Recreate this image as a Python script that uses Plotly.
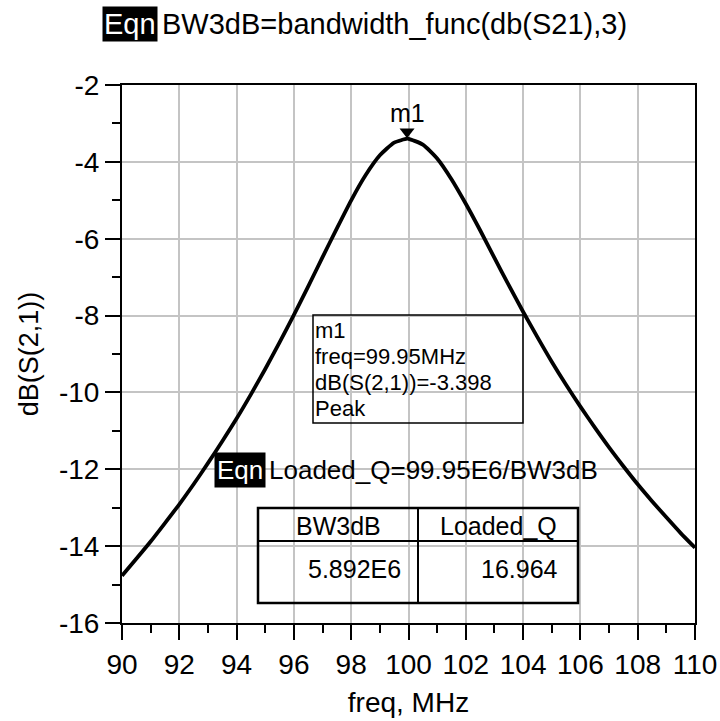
import plotly.graph_objects as go

# ---------------- data ----------------
freq_mhz = [90, 90.5, 91, 91.5, 92, 92.5, 93, 93.5, 94, 94.5, 95, 95.5, 96, 96.5,
            97, 97.5, 98, 98.5, 99, 99.5, 99.95, 100, 100.5, 101, 101.5, 102, 102.5,
            103, 103.5, 104, 104.5, 105, 105.5, 106, 106.5, 107, 107.5, 108, 108.5,
            109, 109.5, 110]
db_s21 = [-14.77, -14.33, -13.88, -13.40, -12.91, -12.39, -11.84, -11.27, -10.68,
          -10.05, -9.39, -8.70, -7.98, -7.24, -6.48, -5.73, -5.00, -4.35, -3.83,
          -3.50, -3.398, -3.40, -3.55, -3.91, -4.45, -5.09, -5.78, -6.50, -7.21,
          -7.90, -8.56, -9.20, -9.80, -10.37, -10.91, -11.43, -11.92, -12.39,
          -12.83, -13.25, -13.66, -14.04]

marker_name = "m1"
marker_freq = 99.95
marker_db = -3.398
marker_lines = ["m1", "freq=99.95MHz", "dB(S(2,1))=-3.398", "Peak"]

eqn_title = "BW3dB=bandwidth_func(db(S21),3)"
eqn_q = "Loaded_Q=99.95E6/BW3dB"
table_headers = ["BW3dB", "Loaded_Q"]
table_values = ["5.892E6", "16.964"]

x_ticks = [90, 92, 94, 96, 98, 100, 102, 104, 106, 108, 110]
y_ticks = [-2, -4, -6, -8, -10, -12, -14, -16]

# ---------------- layout geometry ----------------
W, H = 720, 721
L, R, T, B = 122, 695, 85, 623
XMIN, XMAX, YMIN, YMAX = 90, 110, -16, -2
ppx = (R - L) / (XMAX - XMIN)
ppy = (B - T) / (YMAX - YMIN)


def X(px):
    return XMIN + (px - L) / ppx


def Y(py):
    return YMAX - (py - T) / ppy


def PX(px):
    return (px - L) / (R - L)


def PY(py):
    return (B - py) / (B - T)


FONT = "Liberation Sans, Arial, sans-serif"
fig = go.Figure()

fig.add_trace(go.Scatter(x=freq_mhz, y=db_s21, mode="lines",
                         line=dict(color="black", width=3.8, shape="spline", smoothing=0.6),
                         hoverinfo="skip", showlegend=False))
# marker triangle sitting on the peak
fig.add_trace(go.Scatter(x=[marker_freq], y=[marker_db + 7 / ppy], mode="markers",
                         marker=dict(symbol="triangle-down", size=13, color="black"),
                         hoverinfo="skip", showlegend=False, cliponaxis=False))

ann = []
shapes = []
# title equation (outside the plot area -> paper coordinates)
ann.append(dict(x=PX(158), y=PY(24), xref="paper", yref="paper", text="Eqn", showarrow=False,
                xanchor="right", yanchor="middle", bgcolor="black", borderpad=1,
                font=dict(family=FONT, size=29, color="white")))
ann.append(dict(x=PX(160), y=PY(24), xref="paper", yref="paper", text=eqn_title, showarrow=False,
                xanchor="left", yanchor="middle",
                font=dict(family=FONT, size=29, color="black")))
# m1 label
ann.append(dict(x=marker_freq, y=Y(113), xref="x", yref="y", text=marker_name, showarrow=False,
                xanchor="center", yanchor="middle",
                font=dict(family=FONT, size=25, color="black")))
# marker readout box
for line_txt, py in zip(marker_lines, [330, 356, 382, 408]):
    ann.append(dict(x=X(314), y=Y(py), xref="x", yref="y", text=line_txt, showarrow=False,
                    xanchor="left", yanchor="middle", borderpad=0,
                    font=dict(family=FONT, size=22, color="black")))
shapes.append(dict(type="rect", xref="x", yref="y", x0=X(313), x1=X(523), y0=Y(315), y1=Y(423),
                   line=dict(color="black", width=1.5)))
# Loaded_Q equation
ann.append(dict(x=X(266), y=Y(470), xref="x", yref="y", text="Eqn", showarrow=False,
                xanchor="right", yanchor="middle", bgcolor="black", borderpad=2,
                font=dict(family=FONT, size=26, color="white")))
ann.append(dict(x=X(267), y=Y(470), xref="x", yref="y", text=eqn_q, showarrow=False,
                xanchor="left", yanchor="middle",
                font=dict(family=FONT, size=26, color="black")))
# table
shapes.append(dict(type="rect", xref="x", yref="y", x0=X(258), x1=X(578), y0=Y(508), y1=Y(603),
                   line=dict(color="black", width=2.5)))
shapes.append(dict(type="line", xref="x", yref="y", x0=X(418), x1=X(418), y0=Y(508), y1=Y(603),
                   line=dict(color="black", width=2)))
shapes.append(dict(type="line", xref="x", yref="y", x0=X(258), x1=X(578), y0=Y(541), y1=Y(541),
                   line=dict(color="black", width=2)))
for hdr, cx in zip(table_headers, [338, 498]):
    ann.append(dict(x=X(cx), y=Y(526), xref="x", yref="y", text=hdr, showarrow=False,
                    xanchor="center", yanchor="middle",
                    font=dict(family=FONT, size=25, color="black")))
for val, rx in zip(table_values, [403, 560]):
    ann.append(dict(x=X(rx), y=Y(569), xref="x", yref="y", text=val, showarrow=False,
                    xanchor="right", yanchor="middle",
                    font=dict(family=FONT, size=25, color="black")))

fig.update_layout(
    width=W, height=H,
    margin=dict(l=L, r=W - R, t=T, b=H - B, pad=0, autoexpand=False),
    paper_bgcolor="white", plot_bgcolor="white",
    font=dict(family=FONT, color="black"),
    annotations=ann, shapes=shapes, showlegend=False,
)
fig.update_xaxes(range=[XMIN, XMAX], tickvals=x_ticks, ticktext=[str(v) for v in x_ticks],
                 automargin=False,
                 showgrid=True, gridcolor="#c4c4c4", gridwidth=1.5,
                 showline=True, linecolor="black", linewidth=2, mirror=True,
                 ticks="outside", ticklen=15, tickwidth=1.5, tickcolor="black",
                 minor=dict(dtick=1, tick0=90, ticks="outside", ticklen=8, tickwidth=1.5,
                            tickcolor="black", showgrid=False),
                 tickfont=dict(family=FONT, size=28, color="black"),
                 title=dict(text="freq, MHz", font=dict(family=FONT, size=28, color="black"),
                            standoff=14),
                 zeroline=False, fixedrange=True)
fig.update_yaxes(range=[YMIN, YMAX], tickvals=y_ticks, ticktext=[str(v) for v in y_ticks],
                 automargin=False,
                 showgrid=True, gridcolor="#c4c4c4", gridwidth=1.5,
                 showline=True, linecolor="black", linewidth=2, mirror=True,
                 ticks="outside", ticklen=15, tickwidth=1.5, tickcolor="black",
                 minor=dict(dtick=1, tick0=-16, ticks="outside", ticklen=8, tickwidth=1.5,
                            tickcolor="black", showgrid=False),
                 tickfont=dict(family=FONT, size=28, color="black"),
                 title=dict(text="dB(S(2,1))", font=dict(family=FONT, size=27, color="black"),
                            standoff=12),
                 zeroline=False, fixedrange=True)

fig.write_html("out.html")
